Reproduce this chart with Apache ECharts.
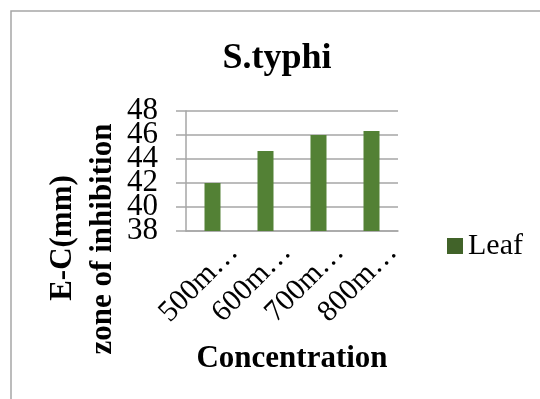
<!DOCTYPE html>
<html>
<head>
<meta charset="UTF-8">
<title>S.typhi</title>
<script src="https://cdn.jsdelivr.net/npm/echarts@6/dist/echarts.min.js"></script>
<style>
html,body{margin:0;padding:0;background:#fff;}
#chart{width:540px;height:399px;}
</style>
</head>
<body>
<div id="chart"></div>
<script type="text/javascript">
// values
var categories = ['500m…', '600m…', '700m…', '800m…'];
var leaf = [42, 44.67, 46, 46.33];
var yTicks = [38, 40, 42, 44, 46, 48];

var serif = '"Liberation Serif","Times New Roman",serif';
// labels are only 12px apart, so they are split over two stacked axes to stop echarts hiding half of them
function yAxisFor(keepOdd, isMain){
	return {
		type: 'value',
		position: 'left',
		min: yTicks[0],
		max: yTicks[yTicks.length - 1],
		interval: 2,
		axisLine: {show: isMain, lineStyle: {color: '#a6a6a6', width: 1.5}},
		axisTick: {show: isMain, length: 10, lineStyle: {color: '#a6a6a6', width: 1.5}},
		axisLabel: {
			margin: 28,
			showMinLabel: true,
			showMaxLabel: true,
			fontFamily: serif,
			fontSize: 31,
			color: '#000',
			formatter: function(v){
				var i = yTicks.indexOf(v);
				return (i % 2 === (keepOdd ? 1 : 0)) ? String(v) : '';
			}
		},
		splitLine: {show: isMain, lineStyle: {color: '#a6a6a6', width: 1.5}}
	};
}

var mychart = echarts.init(document.getElementById('chart'));
var option = {
	backgroundColor: '#fff',
	animation: false,
	title: {
		text: 'S.typhi',
		left: 272,
		top: 36,
		textAlign: 'center',
		textStyle: {fontFamily: serif, fontSize: 36, fontWeight: 'bold', color: '#000'}
	},
	legend: {
		left: 442,
		top: 226,
		itemWidth: 16,
		itemHeight: 16,
		itemGap: 8,
		textStyle: {fontFamily: serif, fontSize: 30, color: '#000'},
		data: [{name: 'Leaf', icon: 'rect', itemStyle: {color: '#416329'}}]
	},
	grid: {left: 186, right: 142, top: 111, bottom: 168},
	xAxis: {
		type: 'category',
		data: categories,
		name: 'Concentration',
		nameLocation: 'middle',
		nameGap: 112,
		nameTextStyle: {fontFamily: serif, fontSize: 31, fontWeight: 'bold', color: '#000'},
		axisLine: {lineStyle: {color: '#a6a6a6', width: 1.5}},
		axisTick: {show: false},
		axisLabel: {
			rotate: 45,
			interval: 0,
			hideOverlap: false,
			margin: 38,
			padding: [0, -30, 0, 0],
			fontFamily: serif,
			fontSize: 30,
			color: '#000'
		}
	},
	yAxis: [yAxisFor(false, true), yAxisFor(true, false)],
	graphic: [
		{type: 'rect', shape: {x: 11, y: 11, width: 700, height: 600}, style: {fill: 'none', stroke: '#a6a6a6', lineWidth: 1.5}, silent: true},
		{type: 'text', x: 63, y: 238, rotation: Math.PI / 2,
			style: {text: 'E-C(mm)', fontFamily: serif, fontSize: 31, fontWeight: 'bold', fill: '#000', align: 'center', verticalAlign: 'middle'}},
		{type: 'text', x: 103, y: 239, rotation: Math.PI / 2,
			style: {text: 'zone of inhibition', fontFamily: serif, fontSize: 31, fontWeight: 'bold', fill: '#000', align: 'center', verticalAlign: 'middle'}}
	],
	series: [{
		name: 'Leaf',
		type: 'bar',
		yAxisIndex: 0,
		barWidth: 16,
		itemStyle: {color: '#538135'},
		data: leaf
	}]
};
mychart.setOption(option);
</script>
</body>
</html>
